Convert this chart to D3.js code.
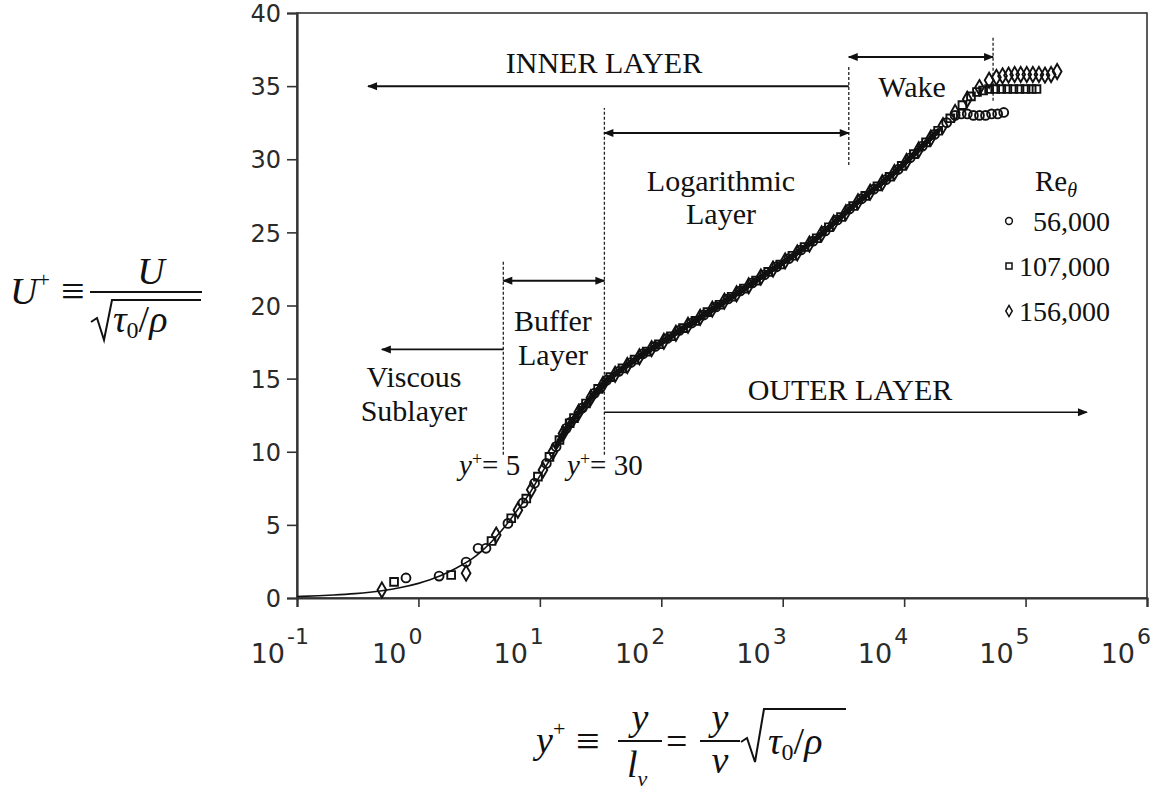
<!DOCTYPE html>
<html>
<head>
<meta charset="utf-8">
<script src="https://cdn.jsdelivr.net/npm/d3@7"></script>
<style>
  body { margin: 0; background: #fff; }
  .serif { font-family: "Liberation Serif", "Times New Roman", serif; fill: #111; }
  .tick text { font-family: "DejaVu Sans", Verdana, sans-serif; fill: #2a2a2a; }
</style>
</head>
<body>
<div id="wrapper"></div>
<script>
// fitted law-of-the-wall curve
const lawYPlus = [0.1, 0.15, 0.2, 0.3, 0.5, 0.7, 1, 1.5, 2, 3, 4, 5, 6, 7, 8, 10, 12, 15, 20, 25, 30, 40, 60, 100, 200, 500, 1000];
const lawUPlus = [0.1, 0.15, 0.2, 0.3, 0.5, 0.7, 1.0, 1.5, 2.0, 2.9, 3.85, 4.75, 5.6, 6.35, 7.0, 8.35, 9.4, 10.7, 12.1, 13.1, 13.9, 15.1, 16.4, 17.45, 18.9, 21.1, 23.0];

// measured profiles [y+, U+]
const re56k = [
  [0.79, 1.37], [1.48, 1.5], [2.47, 2.46], [3.1, 3.4], [3.6, 3.4],
  [5.46, 5.1], [7.26, 6.5], [9.04, 7.85], [11.3, 9.2], [13.6, 10.35], [16.5, 11.6],
  [17.8, 12.0], [22.4, 13.0], [28.2, 14.0], [35.5, 14.9], [44.7, 15.5], [56.2, 16.1],
  [70.8, 16.7], [89.1, 17.2], [112, 17.75], [141, 18.3], [178, 18.8], [224, 19.35],
  [282, 19.9], [355, 20.45], [447, 21.0], [562, 21.55], [708, 22.1], [891, 22.65],
  [1122, 23.2], [1413, 23.8], [1778, 24.4], [2239, 25.1], [2818, 25.85], [3548, 26.6],
  [4467, 27.3], [5623, 27.95], [7079, 28.6], [8913, 29.3], [11220, 30.1], [14125, 30.9],
  [17783, 31.7], [22387, 32.5], [26300, 33.0], [29500, 33.1], [33100, 33.1], [37200, 33.0],
  [41700, 33.0], [46800, 33.0], [52500, 33.1], [58900, 33.1], [66100, 33.2]
];
const re107k = [
  [0.63, 1.1], [1.86, 1.57], [4.0, 3.9],
  [5.81, 5.45], [7.73, 6.8], [9.64, 8.3], [12.0, 9.65], [14.5, 10.8], [17.6, 11.95],
  [19.1, 12.3], [24.0, 13.3], [30.2, 14.3], [38.0, 15.1], [47.9, 15.7], [60.3, 16.3],
  [75.9, 16.85], [95.5, 17.35], [120, 17.9], [151, 18.45], [191, 18.95], [240, 19.55],
  [302, 20.05], [380, 20.6], [479, 21.15], [603, 21.7], [759, 22.3], [955, 22.8],
  [1202, 23.4], [1514, 24.0], [1905, 24.6], [2399, 25.35], [3020, 26.05], [3802, 26.8],
  [4786, 27.5], [6026, 28.15], [7586, 28.8], [9550, 29.55], [12020, 30.35], [15140, 31.15],
  [19050, 31.95], [23990, 32.8], [30200, 33.7], [35500, 34.3], [39800, 34.6], [44700, 34.7],
  [50100, 34.8], [56200, 34.8], [63100, 34.8], [70800, 34.8], [79400, 34.8], [89100, 34.8],
  [100000, 34.8], [112200, 34.8], [123000, 34.8]
];
const re156k = [
  [0.50, 0.55], [2.47, 1.7], [4.37, 4.3],
  [6.59, 6.0], [8.49, 7.4], [10.6, 8.75], [12.8, 10.0], [15.5, 11.25],
  [20.9, 12.7], [26.3, 13.7], [33.1, 14.6], [41.7, 15.3], [52.5, 15.9], [66.1, 16.5],
  [83.2, 17.05], [105, 17.55], [132, 18.1], [166, 18.65], [209, 19.2], [263, 19.75],
  [331, 20.3], [417, 20.8], [525, 21.35], [661, 21.95], [832, 22.5], [1047, 23.05],
  [1318, 23.6], [1660, 24.2], [2089, 24.9], [2630, 25.65], [3311, 26.35], [4169, 27.1],
  [5248, 27.75], [6607, 28.4], [8318, 29.1], [10470, 29.85], [13180, 30.65], [16600, 31.45],
  [20890, 32.3], [26300, 33.2], [33100, 34.1], [41700, 34.9], [50100, 35.4], [57500, 35.6],
  [64600, 35.7], [72400, 35.75], [81300, 35.8], [91200, 35.8], [102300, 35.8], [114800, 35.8],
  [128800, 35.8], [144500, 35.75], [162200, 35.8], [182000, 36.0]
];
const seriesNames = ["56,000", "107,000", "156,000"];

const yTicks = [0, 5, 10, 15, 20, 25, 30, 35, 40];
const xTickExps = [-1, 0, 1, 2, 3, 4, 5, 6];

const width = 1162, height = 791;
const margin = { top: 13, right: 15, bottom: 193, left: 297 };
const boundedWidth = width - margin.left - margin.right;
const boundedHeight = height - margin.top - margin.bottom;

const svg = d3.select("#wrapper").append("svg")
  .attr("width", width)
  .attr("height", height);

const bounds = svg.append("g")
  .attr("transform", `translate(${margin.left},${margin.top})`);

const xScale = d3.scaleLog().domain([0.1, 1e6]).range([0, boundedWidth]);
const yScale = d3.scaleLinear().domain([0, 40]).range([boundedHeight, 0]);

// frame
bounds.append("rect")
  .attr("width", boundedWidth).attr("height", boundedHeight)
  .attr("fill", "none").attr("stroke", "#333").attr("stroke-width", 1.6);

// axes
const yAxis = bounds.append("g")
  .call(d3.axisLeft(yScale).tickValues(yTicks).tickSize(10).tickPadding(6));
yAxis.selectAll("text").attr("font-size", 24).attr("dy", "0.36em");

const xAxis = bounds.append("g")
  .attr("transform", `translate(0,${boundedHeight})`)
  .call(d3.axisBottom(xScale).tickValues(xTickExps.map(e => Math.pow(10, e))).tickSize(9).tickFormat(""));

[yAxis, xAxis].forEach(a => {
  a.select(".domain").attr("stroke", "#333").attr("stroke-width", 2.2);
  a.selectAll(".tick line").attr("stroke", "#333").attr("stroke-width", 1.6);
});

const xLabels = bounds.append("g").attr("class", "tick");
xTickExps.forEach(e => {
  const tx = xScale(Math.pow(10, e));
  xLabels.append("text")
    .attr("x", tx - 12).attr("y", boundedHeight + 65)
    .attr("text-anchor", "end").attr("font-size", 27)
    .text("10");
  xLabels.append("text")
    .attr("x", tx - 10).attr("y", boundedHeight + 46)
    .attr("font-size", 22)
    .text(String(e));
});

// annotation lines (data coordinates)
const dashedLines = [
  { x: 5, u0: 9.8, u1: 23.0 },
  { x: 34, u0: 9.8, u1: 33.5 },
  { x: 3500, u0: 29.6, u1: 36.3 },
  { x: 54000, u0: 34.0, u1: 38.4 }
];
const arrows = [
  { x0: 3500, x1: 0.385, u: 35, both: false, w: 2 },
  { x0: 3500, x1: 54000, u: 37, both: true, w: 2 },
  { x0: 34, x1: 3500, u: 31.8, both: true, w: 2 },
  { x0: 5, x1: 34, u: 21.7, both: true, w: 2 },
  { x0: 5, x1: 0.5, u: 17, both: false, w: 1.6 },
  { x0: 34, x1: 320000, u: 12.7, both: false, w: 1.6 }
];

const defs = svg.append("defs");
defs.append("marker")
  .attr("id", "head").attr("viewBox", "0 0 10 10")
  .attr("refX", 9).attr("refY", 5)
  .attr("markerWidth", 16).attr("markerHeight", 10)
  .attr("markerUnits", "userSpaceOnUse")
  .attr("orient", "auto-start-reverse")
  .append("path").attr("d", "M0,1 L10,5 L0,9 Z").attr("fill", "#111");

bounds.selectAll(".vdash").data(dashedLines).join("line")
  .attr("x1", d => xScale(d.x)).attr("x2", d => xScale(d.x))
  .attr("y1", d => yScale(d.u0)).attr("y2", d => yScale(d.u1))
  .attr("stroke", "#222").attr("stroke-width", 1.3).attr("stroke-dasharray", "3,2");

bounds.selectAll(".arrow").data(arrows).join("line")
  .attr("x1", d => xScale(d.x0)).attr("x2", d => xScale(d.x1))
  .attr("y1", d => yScale(d.u)).attr("y2", d => yScale(d.u))
  .attr("stroke", "#111").attr("stroke-width", d => d.w)
  .attr("marker-end", "url(#head)")
  .attr("marker-start", d => d.both ? "url(#head)" : null);

// fitted curve
const lawData = lawYPlus.map((v, i) => [v, lawUPlus[i]]);
const line = d3.line().x(d => xScale(d[0])).y(d => yScale(d[1]));
bounds.append("path")
  .datum(lawData)
  .attr("fill", "none").attr("stroke", "#111").attr("stroke-width", 1.6)
  .attr("d", line.curve(d3.curveMonotoneX));

// markers; where points crowd together they merge into a solid band
const symbols = [d3.symbolCircle, d3.symbolSquare, d3.symbolDiamond];
const symSizes = [62, 60, 66];
const allSeries = [re56k, re107k, re156k];
allSeries.forEach(s => {
  bounds.append("path")
    .datum(s.filter(d => d[0] > 13 && d[0] < 20000))
    .attr("fill", "none").attr("stroke", "#111").attr("stroke-width", 5)
    .attr("stroke-linejoin", "round").attr("stroke-linecap", "round")
    .attr("d", d3.line().x(d => xScale(d[0])).y(d => yScale(d[1])));
});
allSeries.forEach((s, i) => {
  bounds.append("g").selectAll("path").data(s).join("path")
    .attr("transform", d => `translate(${xScale(d[0])},${yScale(d[1])})`)
    .attr("d", d3.symbol(symbols[i], symSizes[i]))
    .attr("fill", "none").attr("stroke", "#111").attr("stroke-width", 1.9);
});

// text annotations
const notes = [
  { t: "INNER LAYER", x: 604, y: 73 },
  { t: "Wake", x: 912, y: 97 },
  { t: "Logarithmic", x: 721, y: 191 },
  { t: "Layer", x: 721, y: 224 },
  { t: "Buffer", x: 553, y: 331 },
  { t: "Layer", x: 553, y: 365 },
  { t: "Viscous", x: 414, y: 387 },
  { t: "Sublayer", x: 414, y: 421 },
  { t: "OUTER LAYER", x: 850, y: 400 }
];
svg.selectAll(".note").data(notes).join("text")
  .attr("class", "serif").attr("font-size", 30).attr("text-anchor", "middle")
  .attr("x", d => d.x).attr("y", d => d.y).text(d => d.t);

function yPlusEq(x, label) {
  const t = svg.append("text").attr("class", "serif").attr("font-size", 29)
    .attr("x", x).attr("y", 475);
  t.append("tspan").attr("font-style", "italic").text("y");
  t.append("tspan").attr("font-size", 18).attr("dy", -10).text("+");
  t.append("tspan").attr("dy", 10).text("= " + label);
}
yPlusEq(459, "5");
yPlusEq(567, "30");

// legend
const legTitle = svg.append("text").attr("class", "serif").attr("font-size", 29)
  .attr("x", 1035).attr("y", 191);
legTitle.append("tspan").text("Re");
legTitle.append("tspan").attr("font-style", "italic").attr("font-size", 20).attr("dy", 6).text("θ");

seriesNames.forEach((n, i) => {
  const yy = 221 + i * 45;
  svg.append("path")
    .attr("transform", `translate(1009,${yy})`)
    .attr("d", d3.symbol(symbols[i], 36)())
    .attr("fill", "none").attr("stroke", "#111").attr("stroke-width", 1.5);
  svg.append("text").attr("class", "serif").attr("font-size", 28)
    .attr("text-anchor", "end").attr("x", 1110).attr("y", yy + 10).text(n);
});

// y-axis title: U+ = U / sqrt(tau0/rho)
const ly = svg.append("g").attr("class", "serif");
const uPlus = ly.append("text").attr("x", 10).attr("y", 304).attr("font-size", 38);
uPlus.append("tspan").attr("font-style", "italic").text("U");
uPlus.append("tspan").attr("font-size", 22).attr("dy", -17).text("+");
ly.append("text").attr("x", 61).attr("y", 305).attr("font-size", 42).text("≡");
ly.append("text").attr("x", 151).attr("y", 284).attr("font-size", 38)
  .attr("text-anchor", "middle").attr("font-style", "italic").text("U");
ly.append("line").attr("x1", 90).attr("x2", 202).attr("y1", 292).attr("y2", 292)
  .attr("stroke", "#111").attr("stroke-width", 2.2);
ly.append("path").attr("d", "M91,322 L97,318 L104,340 L112,300 L201,300")
  .attr("fill", "none").attr("stroke", "#111").attr("stroke-width", 2);
const den = ly.append("text").attr("x", 113).attr("y", 332).attr("font-size", 38);
den.append("tspan").attr("font-style", "italic").text("τ");
den.append("tspan").attr("font-size", 24).attr("dy", 6).text("0");
den.append("tspan").attr("dy", -6).text("/");
den.append("tspan").attr("font-style", "italic").text("ρ");

// x-axis title: y+ = y/l_nu = y/nu sqrt(tau0/rho)
const lx = svg.append("g").attr("class", "serif");
const yp = lx.append("text").attr("x", 536).attr("y", 753).attr("font-size", 38);
yp.append("tspan").attr("font-style", "italic").text("y");
yp.append("tspan").attr("font-size", 22).attr("dy", -17).text("+");
lx.append("text").attr("x", 576).attr("y", 755).attr("font-size", 42).text("≡");
lx.append("text").attr("x", 640).attr("y", 730).attr("font-size", 38)
  .attr("text-anchor", "middle").attr("font-style", "italic").text("y");
lx.append("line").attr("x1", 618).attr("x2", 662).attr("y1", 741).attr("y2", 741)
  .attr("stroke", "#111").attr("stroke-width", 2.2);
const lnu = lx.append("text").attr("x", 627).attr("y", 777).attr("font-size", 38);
lnu.append("tspan").attr("font-style", "italic").text("l");
lnu.append("tspan").attr("font-style", "italic").attr("font-size", 22).attr("dy", 9).text("ν");
lx.append("text").attr("x", 666).attr("y", 754).attr("font-size", 38).text("=");
lx.append("text").attr("x", 720).attr("y", 730).attr("font-size", 38)
  .attr("text-anchor", "middle").attr("font-style", "italic").text("y");
lx.append("line").attr("x1", 700).attr("x2", 740).attr("y1", 741).attr("y2", 741)
  .attr("stroke", "#111").attr("stroke-width", 2.2);
lx.append("text").attr("x", 720).attr("y", 773).attr("font-size", 38)
  .attr("text-anchor", "middle").attr("font-style", "italic").text("ν");
lx.append("path").attr("d", "M741,742 L747,738 L755,762 L764,709 L846,709")
  .attr("fill", "none").attr("stroke", "#111").attr("stroke-width", 2);
const rad = lx.append("text").attr("x", 768).attr("y", 754).attr("font-size", 38);
rad.append("tspan").attr("font-style", "italic").text("τ");
rad.append("tspan").attr("font-size", 24).attr("dy", 6).text("0");
rad.append("tspan").attr("dy", -6).text("/");
rad.append("tspan").attr("font-style", "italic").text("ρ");
</script>
</body>
</html>
